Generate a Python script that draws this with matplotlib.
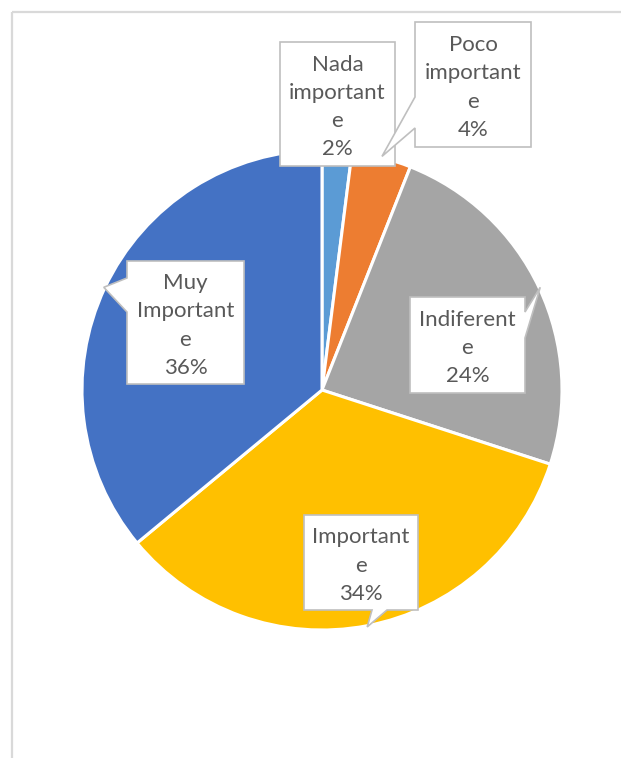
import numpy as np
import matplotlib.pyplot as plt
from matplotlib.patches import Polygon

categories = ["Nada\nimportant\ne", "Poco\nimportant\ne", "Indiferent\ne", "Important\ne", "Muy\nImportant\ne"]
values = [2, 4, 24, 34, 36]
colors = ["#5B9BD5", "#ED7D31", "#A5A5A5", "#FFC000", "#4472C4"]

W, H = 621, 758
fig = plt.figure(figsize=(W / 100, H / 100), dpi=100)
ax = fig.add_axes([0, 0, 1, 1])

# pie in pixel-like coordinates (y up)
cx, cy, R = 322, H - 390, 240
wedges, _ = ax.pie(values, colors=colors, startangle=90, counterclock=False,
                   center=(cx, cy), radius=R,
                   wedgeprops=dict(edgecolor="white", linewidth=2.2))
ax.set_xlim(0, W)
ax.set_ylim(0, H)
ax.set_aspect("equal")
ax.axis("off")

# chart frame (top and left edges visible)
ax.plot([12, W + 5], [H - 12, H - 12], color="#D9D9D9", lw=1.6, solid_capstyle="butt")
ax.plot([12, 12], [H - 12, -5], color="#D9D9D9", lw=1.6, solid_capstyle="butt")

# callout boxes: (x0, y0, x1, y1) in pixels from top-left, pointer side, base span
boxes = [
    ((280, 42, 395, 166), None, None),
    ((415, 22, 531, 147), "left", (97, 128)),
    ((410, 297, 525, 393), "right", (312, 338)),
    ((304, 515, 418, 610), "bottom", (372, 387)),
    ((127, 261, 244, 384), "left", (278, 312)),
]


def callout(box, side, base, tip):
    x0, y0, x1, y1 = box
    pts = [(x0, y0), (x1, y0)]
    if side == "right":
        pts += [(x1, base[0]), tip, (x1, base[1])]
    pts += [(x1, y1)]
    if side == "bottom":
        pts += [(base[1], y1), tip, (base[0], y1)]
    pts += [(x0, y1)]
    if side == "left":
        pts += [(x0, base[1]), tip, (x0, base[0])]
    pts = [(x, H - y) for x, y in pts]
    ax.add_patch(Polygon(pts, closed=True, facecolor="white",
                         edgecolor="#BFBFBF", linewidth=1.2, zorder=5))


total = sum(values)
for w, cat, v, (box, side, base) in zip(wedges, categories, values, boxes):
    mid = np.deg2rad((w.theta1 + w.theta2) / 2)
    tx = cx + R * 1.005 * np.cos(mid)
    ty = H - (cy + R * 1.005 * np.sin(mid))
    callout(box, side, base, (tx, ty))
    bx = (box[0] + box[2]) / 2
    by = (box[1] + box[3]) / 2 + 3
    ax.text(bx, H - by, f"{cat}\n{v / total * 100:.0f}%", ha="center", va="center",
            fontsize=16, color="#595959", family="Lato", linespacing=1.52, zorder=6)

fig.savefig("out.png", dpi=100)
